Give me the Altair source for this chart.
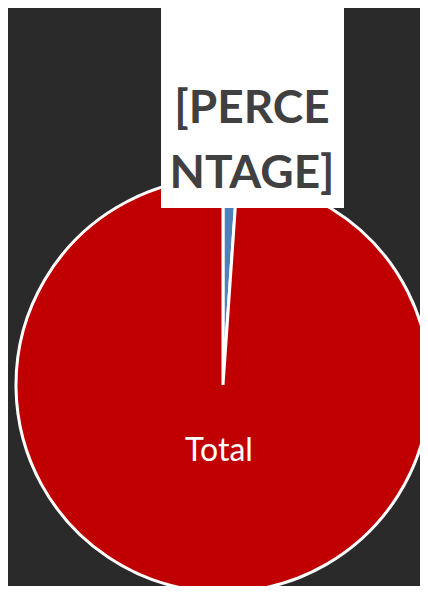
import altair as alt
import pandas as pd

categories = ["Percentage", "Total"]
values = [1.1, 98.9]
colors = ["#4F81BD", "#C00000"]
box_lines = ["[PERCE", "NTAGE]"]
slice_label = "Total"

df = pd.DataFrame({"cat": categories, "val": values, "ord": [0, 1]})

pie = alt.Chart(df).mark_arc(outerRadius=207, stroke="white", strokeWidth=3).encode(
    theta=alt.Theta("val:Q", stack=True),
    color=alt.Color("cat:N", scale=alt.Scale(domain=categories, range=colors), legend=None),
    order=alt.Order("ord:Q"),
    x=alt.value(215),
    y=alt.value(377),
)

box_df = pd.DataFrame({"k": [0]})
box = alt.Chart(box_df).mark_rect(color="white").encode(
    x=alt.value(153), x2=alt.value(336), y=alt.value(0), y2=alt.value(200)
)

lines_df = pd.DataFrame({"t": box_lines, "yy": [115, 180]})
box_text = alt.Chart(lines_df).mark_text(
    font="Lato", fontWeight="bold", fontSize=46, color="#404040",
    baseline="alphabetic", align="center"
).encode(text="t:N", x=alt.value(244), y=alt.Y("yy:Q", scale=None))

lab_df = pd.DataFrame({"t": [slice_label]})
lab = alt.Chart(lab_df).mark_text(
    font="Lato", fontSize=32, color="white", baseline="middle", align="center"
).encode(text="t:N", x=alt.value(211), y=alt.value(443))

chart = alt.layer(pie, box, box_text, lab).properties(
    width=412, height=578, background="#2a2a2a", padding=0,
    autosize=alt.AutoSizeParams(type="none")
).configure_view(stroke=None)

chart.save("out.html", embed_options={"renderer": "svg", "actions": False})
